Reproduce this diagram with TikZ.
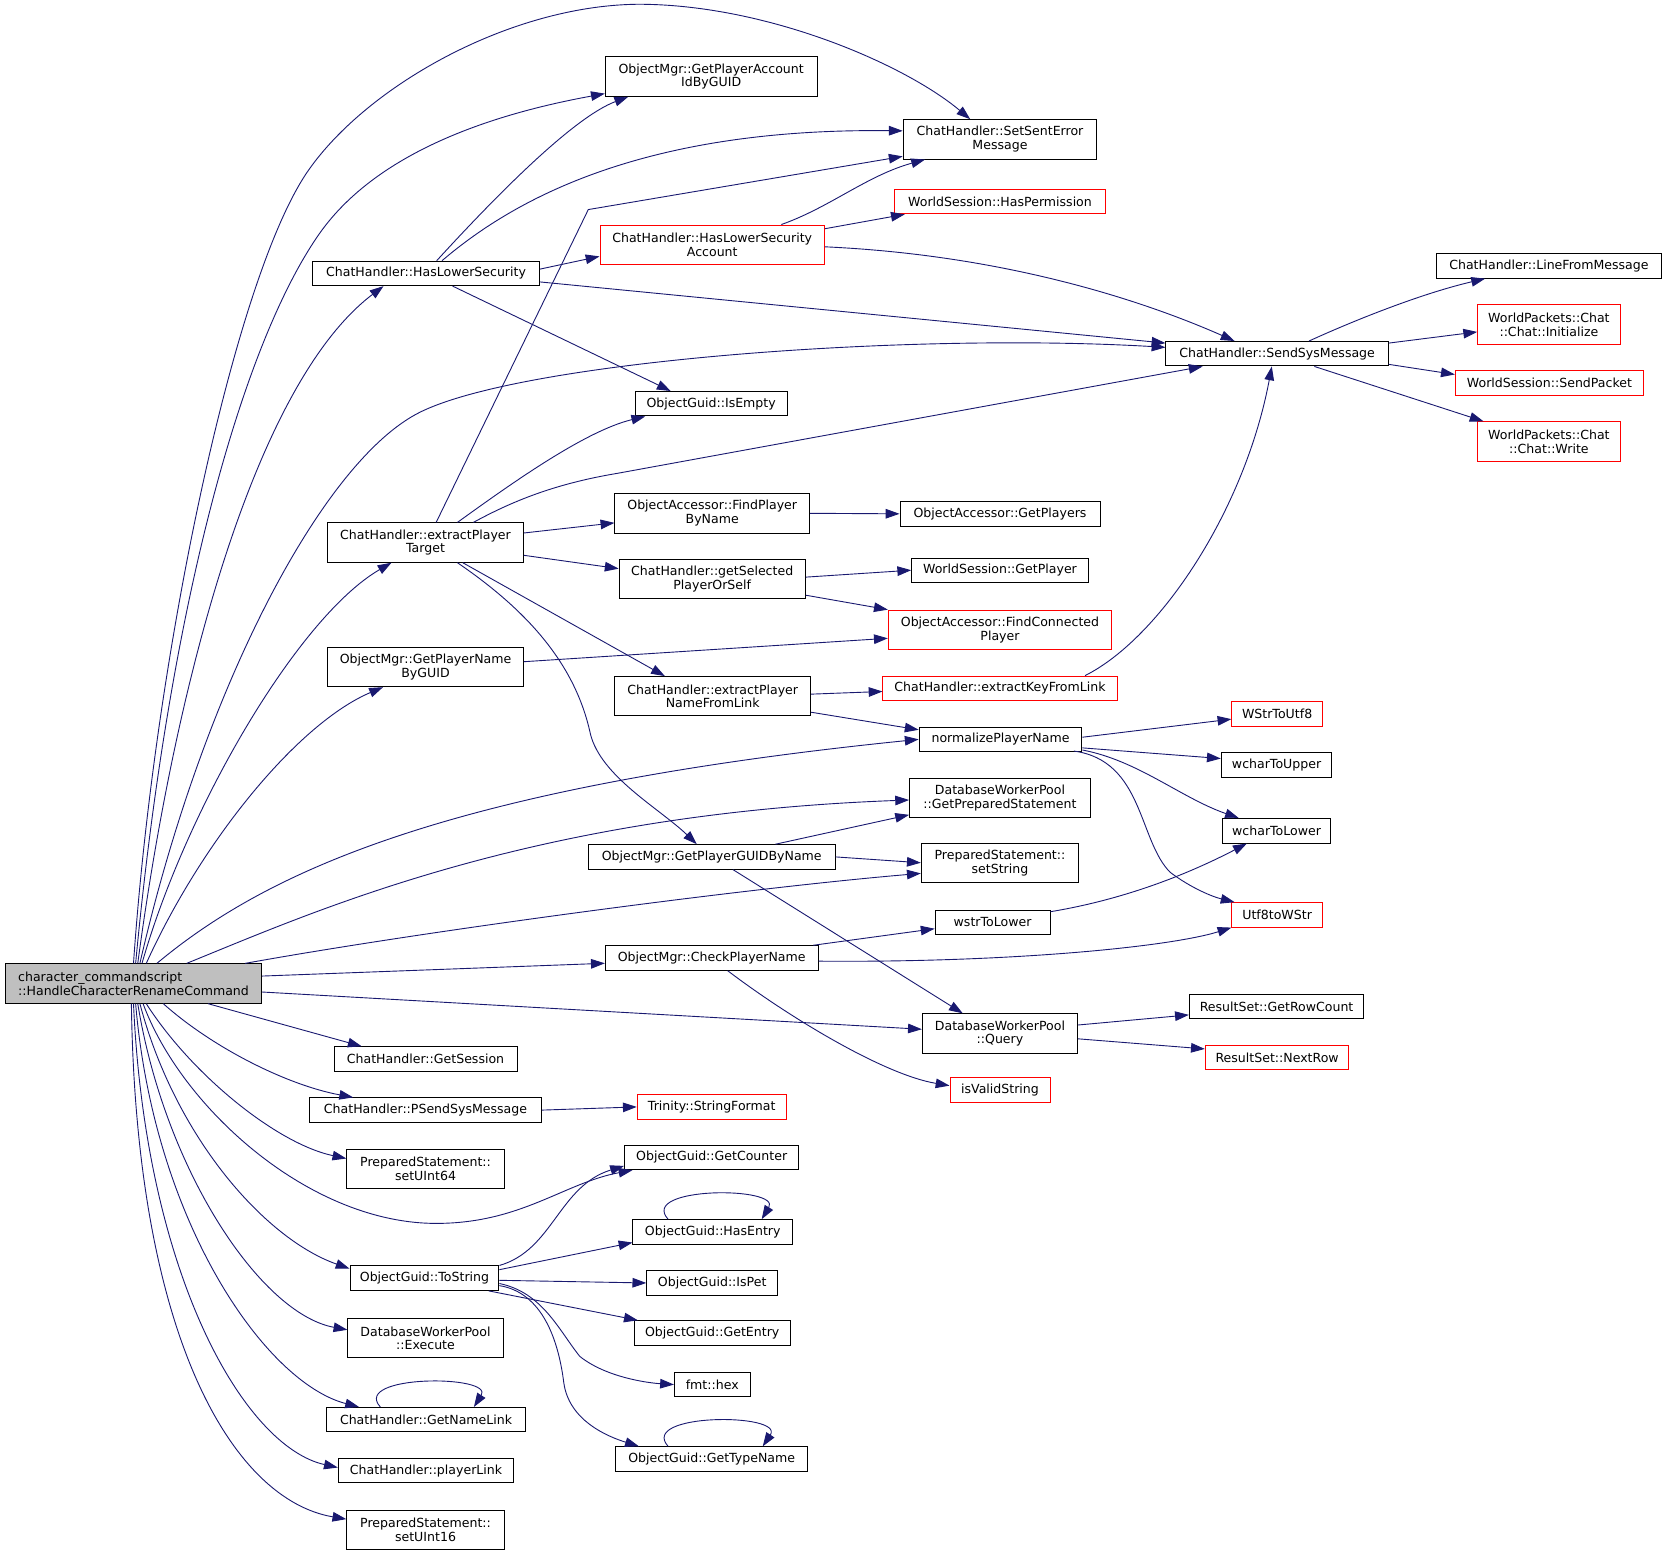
\documentclass[tikz,border=0pt]{standalone}
\usepackage{fontspec}
\setmainfont{DejaVu Sans}
\usetikzlibrary{arrows.meta}
\definecolor{edgeblue}{HTML}{191970}
\definecolor{mainfill}{HTML}{BFBFBF}
\begin{document}
\begin{tikzpicture}[x=1pt, y=-1pt]
	\tikzstyle{fn}=[rectangle, draw=black, line width=0.9pt, inner sep=0pt, minimum height=23pt, align=center, font=\fontsize{11.8}{13}\selectfont]
	\tikzstyle{fn2}=[fn, minimum height=37pt]
	\tikzstyle{miss}=[draw=red]
	\tikzstyle{call}=[-{Triangle[length=13pt,width=9pt]}, draw=edgeblue, line width=0.85pt]
	\useasboundingbox (0,0) rectangle (1567,1462);
	
	% caller
	\node[fn2, fill=mainfill, align=left, minimum width=241pt] (Node-Rename) at (125.5,924.5) {character\_commandscript\\::HandleCharacterRenameCommand};
	
	% second column
	\node[fn, minimum width=213pt] (Node-HasLowerSecurity) at (400.5,257) {ChatHandler::HasLowerSecurity};
	\node[fn2, minimum width=184pt] (Node-ExtractTarget) at (400,510) {ChatHandler::extractPlayer\\Target};
	\node[fn2, minimum width=184pt] (Node-NameByGUID) at (400,627) {ObjectMgr::GetPlayerName\\ByGUID};
	\node[fn, minimum width=172pt] (Node-GetSession) at (400,995.5) {ChatHandler::GetSession};
	\node[fn, minimum width=218pt] (Node-PSendSysMessage) at (400,1043.5) {ChatHandler::PSendSysMessage};
	\node[fn2, minimum width=148pt] (Node-SetUInt64) at (400,1099) {PreparedStatement::\\setUInt64};
	\node[fn, minimum width=140pt] (Node-ToString) at (399,1201.5) {ObjectGuid::ToString};
	\node[fn2, minimum width=146pt] (Node-Execute) at (400,1258) {DatabaseWorkerPool\\::Execute};
	\node[fn, minimum width=187pt] (Node-GetNameLink) at (400.5,1334.5) {ChatHandler::GetNameLink};
	\node[fn, minimum width=165pt] (Node-PlayerLink) at (400.5,1382.5) {ChatHandler::playerLink};
	\node[fn2, minimum width=148pt] (Node-SetUInt16) at (400,1438) {PreparedStatement::\\setUInt16};
	
	% third column
	\node[fn2, minimum width=199pt] (Node-AccountId) at (668.5,72) {ObjectMgr::GetPlayerAccount\\IdByGUID};
	\node[fn2, miss, minimum width=211pt] (Node-LowerSecAccount) at (669.5,230) {ChatHandler::HasLowerSecurity\\Account};
	\node[fn, minimum width=143pt] (Node-IsEmpty) at (668.5,379.5) {ObjectGuid::IsEmpty};
	\node[fn2, minimum width=183pt] (Node-FindByName) at (669.5,482.5) {ObjectAccessor::FindPlayer\\ByName};
	\node[fn2, minimum width=175pt] (Node-SelectedPlayer) at (669.5,544.5) {ChatHandler::getSelected\\PlayerOrSelf};
	\node[fn2, minimum width=184pt] (Node-NameFromLink) at (670,654.5) {ChatHandler::extractPlayer\\NameFromLink};
	\node[fn, minimum width=232pt] (Node-GUIDByName) at (669,805.5) {ObjectMgr::GetPlayerGUIDByName};
	\node[fn, minimum width=200pt] (Node-CheckName) at (669,900.5) {ObjectMgr::CheckPlayerName};
	\node[fn, miss, minimum width=140pt] (Node-StringFormat) at (669,1040.5) {Trinity::StringFormat};
	\node[fn, minimum width=164pt] (Node-GetCounter) at (669,1088) {ObjectGuid::GetCounter};
	\node[fn, minimum width=150pt] (Node-HasEntry) at (670,1158) {ObjectGuid::HasEntry};
	\node[fn, minimum width=123pt] (Node-IsPet) at (669.5,1206) {ObjectGuid::IsPet};
	\node[fn, minimum width=147pt] (Node-GetEntry) at (669.5,1253) {ObjectGuid::GetEntry};
	\node[fn, minimum width=71pt] (Node-Hex) at (669.5,1301.5) {fmt::hex};
	\node[fn, minimum width=180pt] (Node-GetTypeName) at (669,1371.5) {ObjectGuid::GetTypeName};
	
	% fourth column
	\node[fn2, minimum width=182pt] (Node-SetSentError) at (940,131) {ChatHandler::SetSentError\\Message};
	\node[fn, miss, minimum width=198pt] (Node-HasPermission) at (940,189.5) {WorldSession::HasPermission};
	\node[fn, minimum width=188pt] (Node-GetPlayers) at (940,483) {ObjectAccessor::GetPlayers};
	\node[fn, minimum width=166pt] (Node-SessionPlayer) at (940,536) {WorldSession::GetPlayer};
	\node[fn2, miss, minimum width=210pt] (Node-FindConnected) at (940,592) {ObjectAccessor::FindConnected\\Player};
	\node[fn, miss, minimum width=220pt] (Node-KeyFromLink) at (940,647) {ChatHandler::extractKeyFromLink};
	\node[fn, minimum width=153pt] (Node-Normalize) at (940.5,695) {normalizePlayerName};
	\node[fn2, minimum width=170pt] (Node-GetPrepared) at (940,750) {DatabaseWorkerPool\\::GetPreparedStatement};
	\node[fn2, minimum width=148pt] (Node-SetString) at (940,811) {PreparedStatement::\\setString};
	\node[fn, minimum width=108pt] (Node-WstrToLower) at (933,867) {wstrToLower};
	\node[fn2, minimum width=146pt] (Node-Query) at (940,971.5) {DatabaseWorkerPool\\::Query};
	\node[fn, miss, minimum width=94pt] (Node-IsValidString) at (940,1024.5) {isValidString};
	
	% fifth column
	\node[fn, minimum width=209pt] (Node-SendSysMessage) at (1200.5,332.5) {ChatHandler::SendSysMessage};
	\node[fn, miss, minimum width=85pt] (Node-WStrToUtf8) at (1200.5,671) {WStrToUtf8};
	\node[fn, minimum width=104pt] (Node-WcharToUpper) at (1200,719) {wcharToUpper};
	\node[fn, minimum width=102pt] (Node-WcharToLower) at (1200,781) {wcharToLower};
	\node[fn, miss, minimum width=85pt] (Node-Utf8toWStr) at (1200.5,860) {Utf8toWStr};
	\node[fn, minimum width=164pt] (Node-GetRowCount) at (1200,946) {ResultSet::GetRowCount};
	\node[fn, miss, minimum width=135pt] (Node-NextRow) at (1200.5,994) {ResultSet::NextRow};
	
	% sixth column
	\node[fn, minimum width=212pt] (Node-LineFromMessage) at (1456,250) {ChatHandler::LineFromMessage};
	\node[fn2, miss, minimum width=134pt] (Node-Initialize) at (1456,305) {WorldPackets::Chat\\::Chat::Initialize};
	\node[fn, miss, minimum width=177pt] (Node-SendPacket) at (1456.5,360) {WorldSession::SendPacket};
	\node[fn2, miss, minimum width=134pt] (Node-Write) at (1456,415) {WorldPackets::Chat\\::Chat::Write};
	
	% calls made by the command, upward
	\draw[call] (Node-Rename.north) .. controls (145,620) and (220,260) .. (290,160) .. controls (346,80) and (480,5) .. (600,4) .. controls (720,4) and (850,60) .. ([xshift=-28pt]Node-SetSentError.north);
	\draw[call] ([xshift=2pt]Node-Rename.north) .. controls (160,560) and (230,320) .. (300,220) .. controls (356,140) and (470,106) .. ([yshift=-16pt]Node-AccountId.west);
	\draw[call] ([xshift=4pt]Node-Rename.north) .. controls (165,640) and (240,360) .. ([xshift=-40pt]Node-HasLowerSecurity.south);
	\draw[call] ([xshift=6pt]Node-Rename.north) .. controls (190,650) and (300,440) .. (390,390) .. controls (480,340) and (850,312) .. ([yshift=6pt]Node-SendSysMessage.west);
	\draw[call] ([xshift=8pt]Node-Rename.north) .. controls (175,760) and (280,580) .. ([xshift=-32pt]Node-ExtractTarget.south);
	\draw[call] ([xshift=12pt]Node-Rename.north) .. controls (190,790) and (280,680) .. ([xshift=-40pt]Node-NameByGUID.south);
	\draw[call] ([xshift=22pt]Node-Rename.north) .. controls (250,820) and (420,740) .. (Node-Normalize.west);
	\draw[call] ([xshift=50pt]Node-Rename.north) .. controls (300,855) and (500,765) .. ([yshift=-2pt]Node-GetPrepared.west);
	\draw[call] ([xshift=105pt]Node-Rename.north) .. controls (400,875) and (700,835) .. ([yshift=-10pt]Node-SetString.west);
	
	% calls made by the command, sideways and downward
	\draw[call] ([yshift=7pt]Node-Rename.east) -- ([yshift=-5pt]Node-CheckName.west);
	\draw[call] ([yshift=-8pt]Node-Rename.east) -- ([yshift=4pt]Node-Query.west);
	\draw[call] ([xshift=70pt]Node-Rename.south) -- ([xshift=-60pt]Node-GetSession.north);
	\draw[call] ([xshift=28pt]Node-Rename.south) .. controls (200,985) and (270,1020) .. ([xshift=-68pt]Node-PSendSysMessage.north);
	\draw[call] ([xshift=12pt]Node-Rename.south) .. controls (180,1010) and (260,1075) .. ([yshift=10pt]Node-SetUInt64.west);
	\draw[call] ([xshift=9pt]Node-Rename.south) .. controls (170,1040) and (290,1150) .. (410,1150) .. controls (490,1150) and (530,1112) .. ([xshift=8pt]Node-GetCounter.south west);
	\draw[call] ([xshift=6pt]Node-Rename.south) .. controls (165,1070) and (250,1165) .. ([yshift=9pt]Node-ToString.west);
	\draw[call] ([xshift=4pt]Node-Rename.south) .. controls (155,1100) and (245,1235) .. ([yshift=8pt]Node-Execute.west);
	\draw[call] ([xshift=2pt]Node-Rename.south) .. controls (145,1150) and (250,1300) .. ([xshift=-63pt]Node-GetNameLink.north);
	\draw[call] (Node-Rename.south) .. controls (137,1200) and (230,1360) .. ([yshift=3pt]Node-PlayerLink.west);
	\draw[call] ([xshift=-2pt]Node-Rename.south) .. controls (128,1260) and (220,1410) .. ([yshift=10pt]Node-SetUInt16.west);
	
	% HasLowerSecurity
	\draw[call] ([xshift=10pt]Node-HasLowerSecurity.north) .. controls (470,180) and (540,110) .. ([xshift=22pt]Node-AccountId.south west);
	\draw[call] ([xshift=15pt]Node-HasLowerSecurity.north) .. controls (480,190) and (600,120) .. ([yshift=8pt]Node-SetSentError.west);
	\draw[call] ([yshift=4pt]Node-HasLowerSecurity.east) -- ([yshift=-11pt]Node-LowerSecAccount.west);
	\draw[call] ([yshift=-8pt]Node-HasLowerSecurity.east) -- ([yshift=10pt]Node-SendSysMessage.west);
	\draw[call] ([xshift=25pt]Node-HasLowerSecurity.south) -- ([xshift=-38pt]Node-IsEmpty.north);
	
	% HasLowerSecurityAccount
	\draw[call] ([xshift=65pt]Node-LowerSecAccount.north) .. controls (780,195) and (815,165) .. ([xshift=21pt]Node-SetSentError.south west);
	\draw[call] ([yshift=15pt]Node-LowerSecAccount.east) -- ([xshift=10pt]Node-HasPermission.south west);
	\draw[call] ([yshift=-2pt]Node-LowerSecAccount.east) .. controls (950,240) and (1080,285) .. ([xshift=-40pt]Node-SendSysMessage.north);
	
	% extractPlayerTarget
	\draw[call] ([xshift=10pt]Node-ExtractTarget.north) -- (553,197) -- ([yshift=-16pt]Node-SetSentError.west);
	\draw[call] ([xshift=30pt]Node-ExtractTarget.north) .. controls (480,455) and (550,405) .. ([xshift=10pt]Node-IsEmpty.south west);
	\draw[call] ([xshift=45pt]Node-ExtractTarget.north) .. controls (480,472) and (520,455) .. (580,445) -- ([xshift=-70pt]Node-SendSysMessage.south);
	\draw[call] ([yshift=9pt]Node-ExtractTarget.east) -- ([yshift=-9pt]Node-FindByName.west);
	\draw[call] ([yshift=-12pt]Node-ExtractTarget.east) -- ([yshift=10pt]Node-SelectedPlayer.west);
	\draw[call] ([xshift=35pt]Node-ExtractTarget.south) -- ([xshift=-45pt]Node-NameFromLink.north);
	\draw[call] ([xshift=30pt]Node-ExtractTarget.south) .. controls (490,570) and (540,620) .. (555,690) .. controls (565,730) and (620,760) .. ([xshift=-14pt]Node-GUIDByName.north);
	
	% player lookups
	\draw[call] (Node-FindByName.east) -- (Node-GetPlayers.west);
	\draw[call] ([yshift=2pt]Node-SelectedPlayer.east) -- (Node-SessionPlayer.west);
	\draw[call] ([yshift=-15pt]Node-SelectedPlayer.east) -- (Node-FindConnected.north west);
	\draw[call] ([yshift=5pt]Node-NameByGUID.east) -- ([yshift=-8pt]Node-FindConnected.west);
	\draw[call] ([yshift=2pt]Node-NameFromLink.east) -- ([yshift=-3pt]Node-KeyFromLink.west);
	\draw[call] ([yshift=-15pt]Node-NameFromLink.east) -- ([yshift=9pt]Node-Normalize.west);
	\draw[call] ([xshift=80pt]Node-KeyFromLink.north) .. controls (1090,600) and (1170,480) .. ([xshift=-5pt]Node-SendSysMessage.south);
	
	% normalizePlayerName
	\draw[call] ([yshift=2pt]Node-Normalize.east) -- ([yshift=-5pt]Node-WStrToUtf8.west);
	\draw[call] ([yshift=-8pt]Node-Normalize.east) -- ([yshift=6pt]Node-WcharToUpper.west);
	\draw[call] ([yshift=-10pt]Node-Normalize.east) .. controls (1070,715) and (1110,750) .. ([xshift=16pt]Node-WcharToLower.north west);
	\draw[call] ([xshift=-8pt,yshift=-11pt]Node-Normalize.east) .. controls (1075,715) and (1070,790) .. (1100,820) .. controls (1120,835) and (1140,843) .. ([xshift=3pt]Node-Utf8toWStr.north west);
	
	% GetPlayerGUIDByName and CheckPlayerName
	\draw[call] ([xshift=60pt]Node-GUIDByName.north) -- ([yshift=3pt]Node-GetPrepared.south west);
	\draw[call] (Node-GUIDByName.east) -- (Node-SetString.west);
	\draw[call] ([xshift=20pt]Node-GUIDByName.south) -- ([xshift=-35pt]Node-Query.north);
	\draw[call] ([xshift=-5pt]Node-CheckName.north east) -- ([yshift=-6pt]Node-WstrToLower.west);
	\draw[call] ([yshift=-3pt]Node-CheckName.east) .. controls (950,905) and (1100,890) .. (Node-Utf8toWStr.south west);
	\draw[call] ([xshift=15pt]Node-CheckName.south) .. controls (740,955) and (830,1010) .. ([yshift=4pt]Node-IsValidString.west);
	\draw[call] ([yshift=10pt]Node-WstrToLower.east) .. controls (1060,845) and (1120,820) .. ([xshift=-28pt]Node-WcharToLower.south);
	\draw[call] ([yshift=8pt]Node-Query.east) -- ([yshift=-8pt]Node-GetRowCount.west);
	\draw[call] ([yshift=-5pt]Node-Query.east) -- ([yshift=8pt]Node-NextRow.west);
	
	% SendSysMessage
	\draw[call] ([xshift=30pt]Node-SendSysMessage.north) .. controls (1280,298) and (1340,275) .. ([xshift=-60pt]Node-LineFromMessage.south);
	\draw[call] ([yshift=10pt]Node-SendSysMessage.east) -- ([yshift=-7pt]Node-Initialize.west);
	\draw[call] ([yshift=-10pt]Node-SendSysMessage.east) -- ([yshift=8pt]Node-SendPacket.west);
	\draw[call] ([xshift=35pt]Node-SendSysMessage.south) -- ([xshift=6pt]Node-Write.north west);
	
	% PSendSysMessage and ToString
	\draw[call] (Node-PSendSysMessage.east) -- (Node-StringFormat.west);
	\draw[call] (Node-ToString.north east) .. controls (520,1175) and (525,1115) .. ([yshift=4pt]Node-GetCounter.south west);
	\draw[call] ([yshift=8pt]Node-ToString.east) -- ([yshift=-10pt]Node-HasEntry.west);
	\draw[call] ([yshift=-2pt]Node-ToString.east) -- (Node-IsPet.west);
	\draw[call] ([xshift=-10pt]Node-ToString.south east) -- ([xshift=4pt]Node-GetEntry.north west);
	\draw[call] ([yshift=-5pt]Node-ToString.east) .. controls (510,1215) and (525,1250) .. (545,1275) .. controls (570,1295) and (610,1300) .. (Node-Hex.west);
	\draw[call] ([yshift=-7pt]Node-ToString.east) .. controls (510,1215) and (525,1260) .. (530,1300) .. controls (535,1335) and (570,1350) .. ([xshift=22pt]Node-GetTypeName.north west);
	
	% recursive calls
	\draw[call] ([xshift=-43pt]Node-GetNameLink.north) .. controls (330,1292) and (465,1292) .. ([xshift=45pt]Node-GetNameLink.north);
	\draw[call] ([xshift=-42pt]Node-HasEntry.north) .. controls (600,1115) and (735,1115) .. ([xshift=46pt]Node-HasEntry.north);
	\draw[call] ([xshift=-41pt]Node-GetTypeName.north) .. controls (600,1328) and (738,1328) .. ([xshift=48pt]Node-GetTypeName.north);
\end{tikzpicture}
\end{document}
